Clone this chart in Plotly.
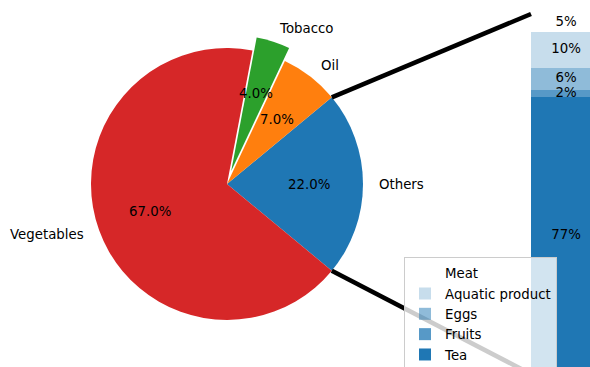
import math
import plotly.graph_objects as go

# ---- data ----
pie_labels = ["Others", "Oil", "Tobacco", "Vegetables"]
pie_values = [22, 7, 4, 67]
pie_colors = ["#1f77b4", "#ff7f0e", "#2ca02c", "#d62728"]
pie_explode = [0, 0, 0.1, 0]

bar_labels = ["Tea", "Fruits", "Eggs", "Aquatic product", "Meat"]
bar_values = [0.77, 0.02, 0.06, 0.10, 0.05]
bar_alphas = [1.0, 0.75, 0.5, 0.25, 0.0]

# ---- layout geometry (pixels) ----
W, H = 590, 367
CX, CY, R = 227, 184, 136
FONT = dict(family="DejaVu Sans", size=13.33, color="black")
total = sum(pie_values)
START = -180.0 * pie_values[0] / total  # matplotlib startangle

box = 2 * R * (1 + max(pie_explode))
pie_dx = [(CX - box / 2) / W, (CX + box / 2) / W]
pie_dy = [1 - (CY + box / 2) / H, 1 - (CY - box / 2) / H]

BAR_W = 0.2
BX_C, PX_X = 566, 350.0
BY0, PX_Y = 374, 360.0
xdom = [0.8, 1.0]
xr = [-(BX_C - xdom[0] * W) / PX_X, (W - BX_C) / PX_X]
yr = [(BY0 - H) / PX_Y, BY0 / PX_Y]


def bx(v):
    return xdom[0] * W + (v - xr[0]) / (xr[1] - xr[0]) * (xdom[1] - xdom[0]) * W


def by(v):
    return H - (v - yr[0]) / (yr[1] - yr[0]) * H


def px2paper(x, y):
    return x / W, 1 - y / H


fig = go.Figure()

# plotly (counterclockwise): first slice spans clockwise [rotation, rotation + width]
first_w = 360.0 * pie_values[0] / total
fig.add_trace(go.Pie(
    labels=pie_labels, values=pie_values, sort=False,
    direction="counterclockwise", rotation=90 - START - first_w,
    pull=pie_explode, marker=dict(colors=pie_colors, line=dict(width=0)),
    textinfo="none", showlegend=False, hoverinfo="label+percent",
    domain=dict(x=pie_dx, y=pie_dy),
))

annotations = []
cum = 0
for lab, v, ex in zip(pie_labels, pie_values, pie_explode):
    mid = math.radians(START + 360.0 * (cum + v / 2) / total)
    cum += v
    off = ex * R
    c, s = math.cos(mid), math.sin(mid)
    lx, ly = px2paper(CX + (1.1 * R + off) * c, CY - (1.1 * R + off) * s)
    annotations.append(dict(x=lx, y=ly, xref="paper", yref="paper", text=lab,
                            showarrow=False, font=FONT,
                            xanchor="left" if c > 0 else "right", yanchor="middle"))
    tx, ty = px2paper(CX + (0.6 * R + off) * c, CY - (0.6 * R + off) * s)
    annotations.append(dict(x=tx, y=ty, xref="paper", yref="paper",
                            text=f"{100.0 * v / total:.1f}%", showarrow=False,
                            font=FONT, xanchor="center", yanchor="middle"))

# stacked bar
centers = []
base = 0
for lab, v, a in zip(bar_labels, bar_values, bar_alphas):
    fig.add_trace(go.Bar(x=[0], y=[v], name=lab, width=BAR_W,
                         marker=dict(color=f"rgba(31,119,180,{a})", line=dict(width=0)),
                         xaxis="x", yaxis="y"))
    centers.append(base + v / 2)
    base += v

fig.add_trace(go.Scatter(x=[0] * len(bar_values), y=centers, mode="text",
                         text=[f"{v:.0%}" for v in bar_values],
                         textfont=FONT, showlegend=False, cliponaxis=False,
                         hoverinfo="skip"))

# connection lines
t1 = math.radians(START)
t2 = math.radians(START + first_w)
shapes = []
for th, yv in ((t2, sum(bar_values)), (t1, 0)):
    x0, y0 = px2paper(CX + R * math.cos(th), CY - R * math.sin(th))
    x1, y1 = px2paper(bx(-BAR_W / 2), by(yv))
    shapes.append(dict(type="line", xref="paper", yref="paper",
                       x0=x0, y0=y0, x1=x1, y1=y1,
                       line=dict(color="black", width=4.5), layer="above"))

fig.update_layout(
    width=W, height=H, margin=dict(l=0, r=0, t=0, b=0, autoexpand=False),
    paper_bgcolor="white", plot_bgcolor="rgba(0,0,0,0)",
    barmode="stack", bargap=0,
    font=FONT,
    xaxis=dict(domain=xdom, range=xr, visible=False, fixedrange=True),
    yaxis=dict(domain=[0, 1], range=yr, visible=False, fixedrange=True),
    annotations=annotations, shapes=shapes,
    legend=dict(x=404 / W, y=1 - 257 / H, xanchor="left", yanchor="top",
                traceorder="reversed", bgcolor="rgba(255,255,255,0.8)",
                bordercolor="#cccccc", borderwidth=1, font=FONT, tracegroupgap=0),
    showlegend=True,
)

fig.write_html("out.html", config={"displayModeBar": False},
               post_script="document.body.style.margin='0';document.body.style.padding='0';document.body.style.overflow='hidden';")
